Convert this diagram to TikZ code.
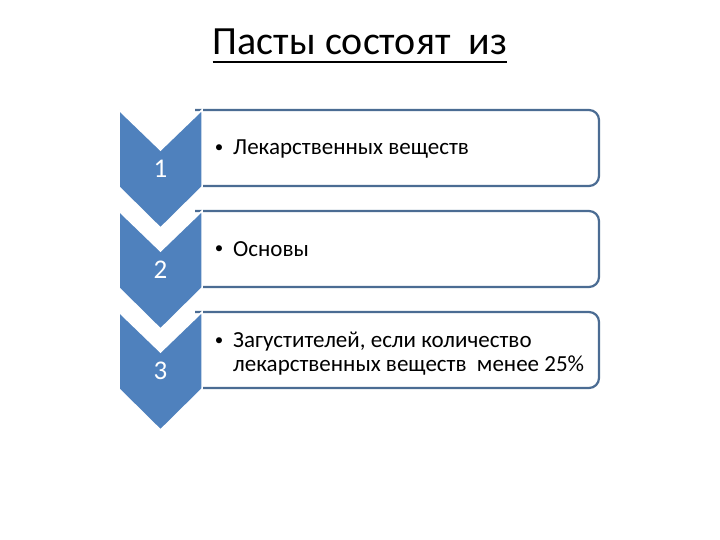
\documentclass[tikz,border=0pt]{standalone}
\usepackage{fontspec}
\setmainfont{Carlito}
\definecolor{chev}{HTML}{4F81BD}
\definecolor{boxline}{HTML}{4B6C93}
\begin{document}
\begin{tikzpicture}[x=1pt,y=-1pt,
  chevshape/.style={fill=chev,draw=white,line width=1.5pt,line join=miter},
  listbox/.style={draw=boxline,fill=white,line width=2.2pt,rounded corners=10pt},
  numtxt/.style={text=white,font=\fontsize{27}{32}\selectfont,inner sep=0pt},
  itemtxt/.style={font=\fontsize{23}{27}\selectfont,inner sep=0pt,anchor=base west},
  bullettxt/.style={font=\fontsize{17}{20}\selectfont,inner sep=0pt,anchor=base}]
\useasboundingbox (0,0) rectangle (720,540);
% title
\node[font=\fontsize{40}{46}\selectfont,inner sep=0pt,anchor=base] (title) at (360,55) {Пасты состоят\ \ из};
\draw[line width=1.8pt] ([yshift=-7pt]title.base west) -- ([yshift=-7pt]title.base east);
% boxes
\foreach \t in {110,211,312}{
  \draw[listbox] (195,\t) -- (599,\t) -- (599,\t+76) -- (195,\t+76);
}
% chevrons
\foreach \t/\n in {110/1,211/2,312/3}{
  \draw[chevshape] (119,\t) -- (160.5,\t+40) -- (202,\t) -- (202,\t+77) -- (160.5,\t+118) -- (119,\t+77) -- cycle;
  \node[numtxt] (n\n) at (160.5,\t+59) {\n};
}
% texts
\node[bullettxt] (b1) at (219,153) {•};
\node[itemtxt] (t1) at (233,155) {Лекарственных веществ};
\node[bullettxt] (b2) at (219,254) {•};
\node[itemtxt] (t2) at (233,256) {Основы};
\node[bullettxt] (b3) at (219,345) {•};
\node[itemtxt] (t3) at (233,347) {Загустителей, если количество};
\node[itemtxt] (t3b) at (233,371) {лекарственных веществ\ \ менее 25\%};
\end{tikzpicture}
\end{document}
